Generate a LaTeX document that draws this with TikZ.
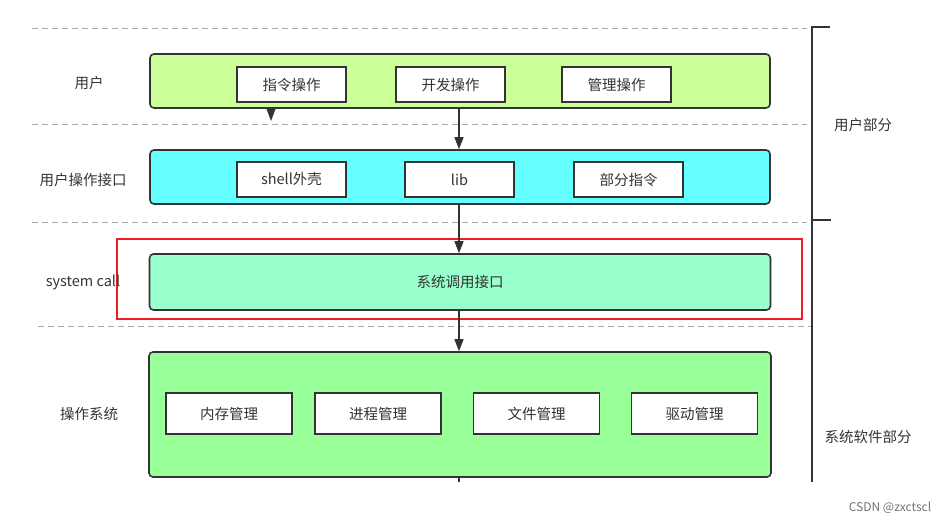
\documentclass[tikz,border=0pt]{standalone}
\usepackage{fontspec}
\setmainfont{Noto Sans CJK SC}
\usetikzlibrary{arrows.meta}
\definecolor{ink}{HTML}{333333}
\definecolor{dashc}{HTML}{AAAAAA}
\definecolor{userfill}{HTML}{CCFF99}
\definecolor{apifill}{HTML}{66FFFF}
\definecolor{scfill}{HTML}{99FFCC}
\definecolor{osfill}{HTML}{99FF99}
\definecolor{redc}{HTML}{EE1C25}
\begin{document}
\begin{tikzpicture}[x=1pt,y=-1pt,
  every node/.style={font=\fontsize{14.5}{16}\selectfont, text=ink},
  layer/.style={draw=ink, line width=1.6pt, rounded corners=4pt, inner sep=0pt},
  item/.style={draw=ink, line width=1.6pt, fill=white, inner sep=0pt, minimum height=35pt, minimum width=109pt},
  ositem/.style={item, minimum height=41pt, minimum width=126pt},
  sep/.style={draw=dashc, line width=0.9pt, dash pattern=on 6pt off 4pt},
  arr/.style={draw=ink, line width=1.4pt, -{Triangle[length=12pt,width=9pt]}},
  lbl/.style={text=ink}
]
\useasboundingbox (0,0) rectangle (947,523);
% dashed separators
\coordinate (d1a) at (32,28);  \coordinate (d1b) at (807,28);
\coordinate (d2a) at (32,124); \coordinate (d2b) at (807,124);
\coordinate (d3a) at (32,222); \coordinate (d3b) at (807,222);
\coordinate (d4a) at (38,326); \coordinate (d4b) at (812,326);
\draw[sep] (d1a) -- (d1b);
\draw[sep] (d2a) -- (d2b);
\draw[sep] (d3a) -- (d3b);
\draw[sep] (d4a) -- (d4b);

% layers
\node[layer, fill=userfill, minimum width=620pt, minimum height=54pt] (user) at (460,81) {};
\node[item] (zl) at (291.5,84.5) {指令操作};
\node[item] (kf) at (450.5,84.5) {开发操作};
\node[item] (gl) at (616.5,84.5) {管理操作};

\node[layer, fill=apifill, minimum width=620pt, minimum height=54pt] (api) at (460,177) {};
\node[item] (shell) at (291.5,179.5) {shell外壳};
\node[item] (lib) at (459.5,179.5) {lib};
\node[item] (bf) at (628.5,179.5) {部分指令};

\node[layer, fill=scfill, minimum width=621pt, minimum height=56pt] (sc) at (460,282) {系统调用接口};

\node[layer, fill=osfill, minimum width=622pt, minimum height=125pt] (os) at (460,414.5) {};
\node[ositem] (nc) at (229,413.5) {内存管理};
\node[ositem] (jc) at (378,413.5) {进程管理};
\node[ositem] (wj) at (536.5,413.5) {文件管理};
\node[ositem] (qd) at (694.5,413.5) {驱动管理};

% red highlight
\node[draw=redc, line width=2pt, inner sep=0pt, minimum width=685pt, minimum height=80pt] (hl) at (459.5,279) {};

% arrows
\coordinate (ax) at (459,0);
\draw[arr] (user.south -| ax) -- (api.north -| ax);
\draw[arr] (api.south -| ax) -- (sc.north -| ax);
\draw[arr] (sc.south -| ax) -- (os.north -| ax);
\coordinate (stub) at (459,482);
\draw[draw=ink, line width=1.4pt] (os.south -| ax) -- (stub);
% orphan arrowhead under user layer
\coordinate (tip) at (271,121);
\fill[ink] (user.south -| tip) ++(-4.5,0) -- (tip) -- ++(4.5,-12) -- cycle;

% left labels
\node[lbl] (l1) at (89,83) {用户};
\node[lbl] (l2) at (83,180) {用户操作接口};
\node[lbl] (l3) at (83,282) {system call};
\node[lbl] (l4) at (89,414) {操作系统};

% right bracket
\coordinate (b1) at (830,27); \coordinate (b2) at (812,27);
\coordinate (b3) at (812,482);
\coordinate (b4) at (812,220); \coordinate (b5) at (831,220);
\draw[ink, line width=1.5pt] (b1) -- (b2) -- (b3);
\draw[ink, line width=1.5pt] (b4) -- (b5);
\node[lbl] (r1) at (863,125) {用户部分};
\node[lbl] (r2) at (868,437) {系统软件部分};

% watermark
\node[text=black!55, font=\fontsize{12}{14}\selectfont] (wm) at (890,508) {CSDN @zxctscl};
\end{tikzpicture}
\end{document}
